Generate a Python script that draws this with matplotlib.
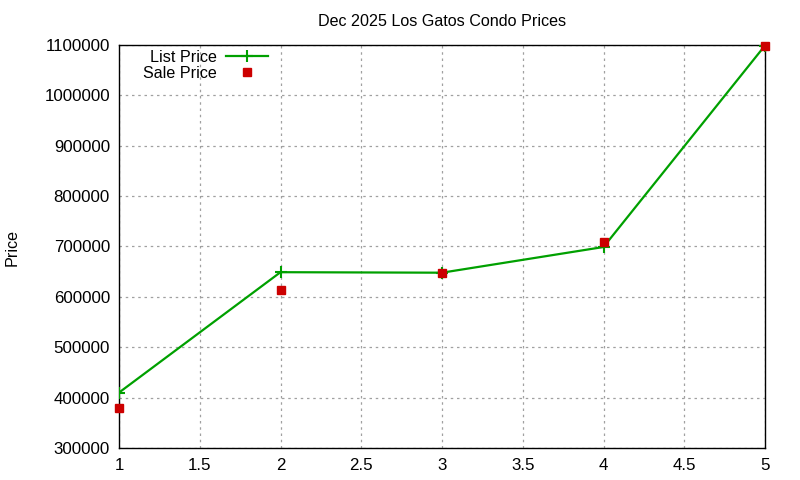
import matplotlib
matplotlib.use("Agg")
import matplotlib.pyplot as plt

plt.rcParams['font.family'] = ['Liberation Sans', 'DejaVu Sans']

x_vals = [1, 2, 3, 4, 5]
list_price = [410000, 649000, 648000, 699000, 1099000]
sale_price = [379000, 614500, 648000, 708000, 1098500]
x_ticks = [1, 1.5, 2, 2.5, 3, 3.5, 4, 4.5, 5]
x_tick_labels = ['1', '1.5', '2', '2.5', '3', '3.5', '4', '4.5', '5']
y_ticks = [300000, 400000, 500000, 600000, 700000, 800000, 900000, 1000000, 1100000]
y_tick_labels = [str(v) for v in y_ticks]

fig = plt.figure(figsize=(8, 4.8), dpi=100)
ax = fig.add_axes([119/800, 1-448/480, (765-119)/800, (448-45)/480])

ax.plot(x_vals, list_price, color='#00a000', linewidth=1.6, marker='+',
        markersize=8, markeredgewidth=1.5, label='List Price', zorder=3)
ax.plot(x_vals, sale_price, linestyle='none', marker='s', color='#cc0000',
        markersize=6, label='Sale Price', zorder=4, clip_on=False)

ax.set_xlim(1, 5)
ax.set_ylim(300000, 1100000)
ax.set_xticks(x_ticks)
ax.set_xticklabels(x_tick_labels)
ax.set_yticks(y_ticks)
ax.set_yticklabels(y_tick_labels)
ax.tick_params(direction='in', labelsize=12.2, length=0)
ax.tick_params(axis='x', pad=7.5)
ax.tick_params(axis='y', pad=6.5)
ax.grid(True, color='#a0a0a0', linestyle=(0, (2, 3)), linewidth=0.9)
for s in ax.spines.values():
    s.set_linewidth(1.0)

ax.set_title('Dec 2025 Los Gatos Condo Prices', fontsize=11.6, pad=14)
fig.text(12/800, 1-247/480, 'Price', rotation=90, ha='center', va='center', fontsize=11.6)

leg = ax.legend(loc='upper left', bbox_to_anchor=(0.022, 1.012), frameon=False,
                markerfirst=False, fontsize=11.6, handlelength=2.6,
                borderaxespad=0.2, labelspacing=0.05, handletextpad=0.6)
for t in leg.get_texts():
    t.set_ha('right')

fig.savefig('out.png', dpi=100)
